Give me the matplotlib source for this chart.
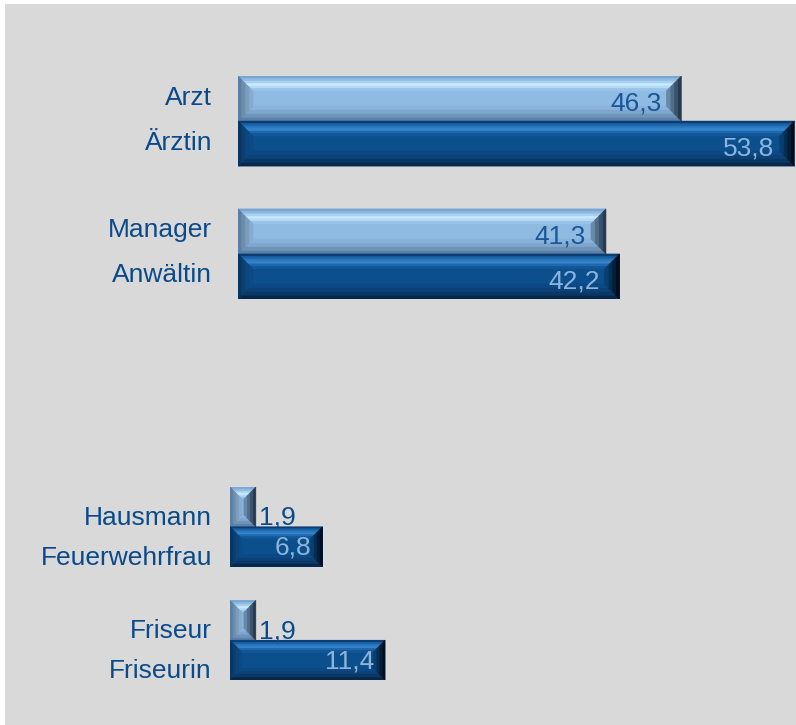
import matplotlib
matplotlib.use("Agg")
import matplotlib.pyplot as plt
from matplotlib.patches import Polygon, Rectangle
import numpy as np

# ---------------- data ----------------
top_labels = ["Arzt", "Ärztin", "Manager", "Anwältin"]
top_values = [46.3, 53.8, 41.3, 42.2]
bottom_labels = ["Hausmann", "Feuerwehrfrau", "Friseur", "Friseurin"]
bottom_values = [1.9, 6.8, 1.9, 11.4]
bar_kinds = ["light", "dark", "light", "dark"]

# ---------------- styles ----------------
W, H = 796, 725
BG = "#d9d9d9"
LABEL_COL = "#0b4a8a"
VAL_ON_LIGHT = "#1a5796"
VAL_ON_DARK = "#8db5dc"
FONT = "Liberation Sans"
FS = 19

STYLE = {
    "light": dict(
        body="#8fbbe3",
        top=["#7ba6d2", "#8fb9e2", "#a8d0f0", "#c9eafc", "#b4daf5", "#98c3e8"],
        bottom=["#5c80a6", "#6f93b9", "#7fa6cd", "#89b3db"],
        left=["#5d7e9e", "#6c8ead", "#7a9dbd", "#86abcd"],
        right=["#273a4f", "#3a536c", "#4f6c89", "#6788a9"],
    ),
    "dark": dict(
        body="#0b4f8d",
        top=["#0a3d72", "#1a62a6", "#2a78c0", "#3585cc", "#1f68ad", "#125799"],
        bottom=["#06274a", "#0a3763", "#0c4177", "#0c4884"],
        left=["#08365f", "#0a3f70", "#0b467d", "#0b4a86"],
        right=["#010d1c", "#031d36", "#062d52", "#0a3e70"],
    ),
}


def px2pt(p):
    return p * 72.0 / 100.0


def bevel(ax, patch, st, d):
    inv = ax.transData.inverted()
    bb = patch.get_window_extent()
    x0, y0, x1, y1 = bb.x0, bb.y0, bb.x1, bb.y1
    d = min(d, (x1 - x0) / 2.0, (y1 - y0) / 2.0)

    def add(pts, c):
        data = inv.transform(np.array(pts))
        ax.add_patch(Polygon(data, closed=True, facecolor=c, edgecolor=c,
                             linewidth=0.4, zorder=3))

    for side in ["top", "bottom", "left", "right"]:
        cols = st[side]
        n = len(cols)
        for k, c in enumerate(cols):
            a = d * k / n
            b = d * (k + 1) / n
            if side == "top":
                pts = [(x0 + a, y1 - a), (x1 - a, y1 - a), (x1 - b, y1 - b), (x0 + b, y1 - b)]
            elif side == "bottom":
                pts = [(x0 + a, y0 + a), (x1 - a, y0 + a), (x1 - b, y0 + b), (x0 + b, y0 + b)]
            elif side == "left":
                pts = [(x0 + a, y0 + a), (x0 + a, y1 - a), (x0 + b, y1 - b), (x0 + b, y0 + b)]
            else:
                pts = [(x1 - a, y0 + a), (x1 - a, y1 - a), (x1 - b, y1 - b), (x1 - b, y0 + b)]
            add(pts, c)


def fmt(v):
    return f"{v:.1f}".replace(".", ",")


def positions(n, gap):
    # two groups of two bars, gap between groups
    return np.array([(i // 2) * gap + (i % 2) for i in range(n)])


fig = plt.figure(figsize=(W / 100, H / 100), dpi=100, facecolor="white")
fig.patches.append(Rectangle((5 / W, 0), 1, (H - 4) / H, transform=fig.transFigure,
                             facecolor=BG, edgecolor="none", zorder=-10))


def make_chart(rect_px, xlim, labels, values, gap, bevel_px, label_gap_px,
               label_dy, val_in_dy, val_out_dy, val_in_pad, small_threshold):
    lpx, rpx, tpx, bpx = rect_px
    ax = fig.add_axes([lpx / W, (H - bpx) / H, (rpx - lpx) / W, (bpx - tpx) / H])
    ax.set_axis_off()
    ax.patch.set_alpha(0)
    pos = positions(len(values), gap)
    ax.set_xlim(*xlim)
    ax.set_ylim(pos.max() + 0.5, pos.min() - 0.5)
    base = xlim[0]
    vals = np.array(values)
    bars = ax.barh(pos, vals - base, left=base, height=1.0,
                   color=[STYLE[k]["body"] for k in bar_kinds], linewidth=0, zorder=2)
    for b, k in zip(bars, bar_kinds):
        bevel(ax, b, STYLE[k], bevel_px)
    ytr = ax.get_yaxis_transform()
    for p, lab, v, k in zip(pos, labels, values, bar_kinds):
        ax.annotate(lab, xy=(0, p), xycoords=ytr,
                    xytext=(-px2pt(label_gap_px), -px2pt(label_dy)), textcoords="offset points",
                    ha="right", va="baseline", color=LABEL_COL, fontsize=FS, family=FONT)
        bar_px = (v - base) / (xlim[1] - xlim[0]) * (rpx - lpx)
        if bar_px < small_threshold:
            ax.annotate(fmt(v), xy=(v, p), xycoords="data",
                        xytext=(px2pt(3), -px2pt(val_out_dy)), textcoords="offset points",
                        ha="left", va="baseline", color=LABEL_COL, fontsize=FS, family=FONT,
                        zorder=5)
        else:
            col = VAL_ON_LIGHT if k == "light" else VAL_ON_DARK
            ax.annotate(fmt(v), xy=(v, p), xycoords="data",
                        xytext=(-px2pt(val_in_pad), -px2pt(val_in_dy)), textcoords="offset points",
                        ha="right", va="baseline", color=col, fontsize=FS, family=FONT,
                        zorder=5)
    return ax


# top chart (scale starts at a broken baseline)
make_chart((238, 796, 76, 299), (16.9, 53.9), top_labels, top_values, gap=2.95,
           bevel_px=15, label_gap_px=26, label_dy=6, val_in_dy=12, val_out_dy=12,
           val_in_pad=20, small_threshold=60)

# bottom chart
make_chart((230, 796, 487, 680), (0, 41.6), bottom_labels, bottom_values, gap=2.85,
           bevel_px=12, label_gap_px=18, label_dy=18, val_in_dy=8, val_out_dy=18,
           val_in_pad=11, small_threshold=60)

fig.savefig("out.png", dpi=100, facecolor="white")
